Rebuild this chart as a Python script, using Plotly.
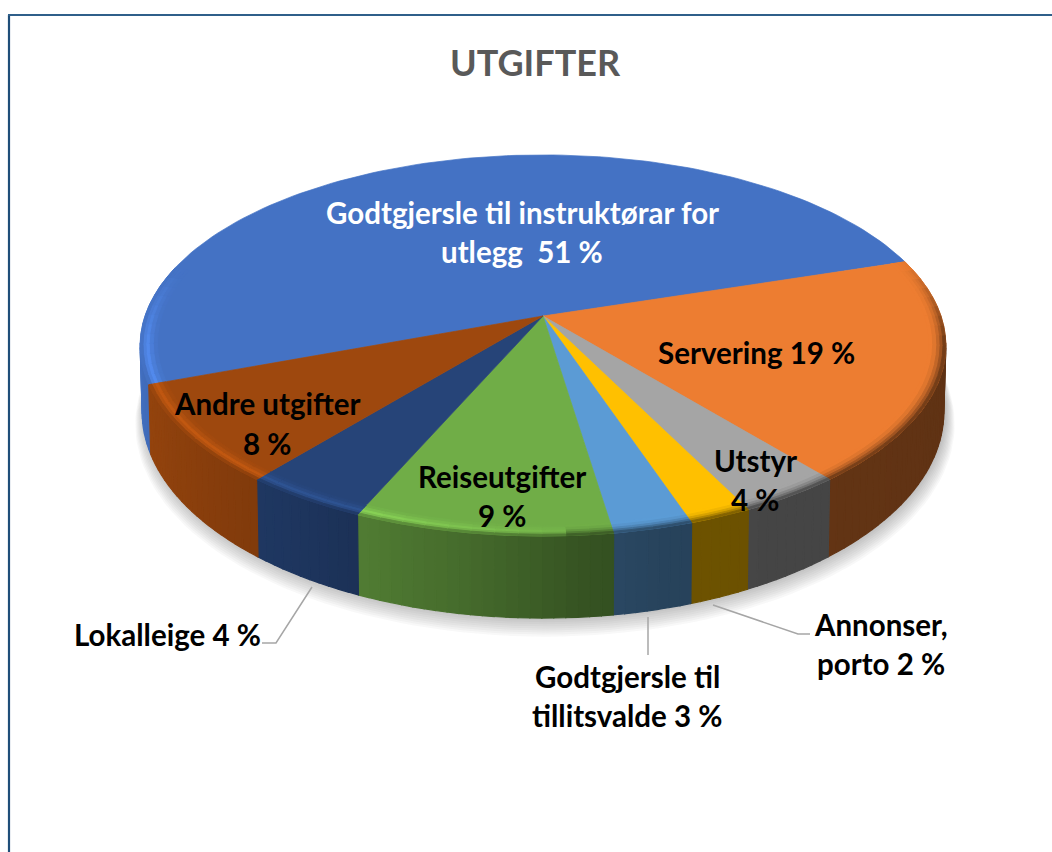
import numpy as np
import plotly.graph_objects as go

# ---- data ----
categories = ["Godtgjersle til instruktørar for utlegg", "Servering", "Utstyr", "Annonser, porto",
              "Godtgjersle til tillitsvalde", "Reiseutgifter", "Lokalleige", "Andre utgifter"]
values = [50.75, 19.0, 3.6, 2.17, 2.76, 8.95, 4.37, 8.4]
colors = ["#4472c4", "#ed7d31", "#a5a5a5", "#ffc000", "#5b9bd5", "#70ad47", "#264478", "#9e480e"]
title_text = "UTGIFTER"
label_lines = [
    ("Godtgjersle til instruktørar for", 522, 212, "white"),
    ("utlegg  51 %", 522, 251, "white"),
    ("Servering 19 %", 756, 352, "black"),
    ("Andre utgifter", 267, 403, "black"),
    ("8 %", 267, 443, "black"),
    ("Reiseutgifter", 502, 476, "black"),
    ("9 %", 502, 515, "black"),
    ("Utstyr", 755, 460, "black"),
    ("4 %", 755, 499, "black"),
    ("Lokalleige 4 %", 167, 634, "black"),
    ("Godtgjersle til", 627, 676, "black"),
    ("tillitsvalde 3 %", 627, 715, "black"),
    ("Annonser,", 881, 624, "black"),
    ("porto 2 %", 881, 663, "black"),
]
leaders = [
    ([262, 276, 312], [643, 643, 587]),
    ([648, 648], [617, 655]),
    ([713, 798, 810], [605, 634, 634]),
]

# ---- projection of the tilted disc ----
CX, CY, A, B, K = 543.0, 316.0, 398.0, 186.0, 0.1547
START = -110.45
DEPTH, SY = 64.0, 1.082


def top(theta, r=1.0):
    t = np.radians(theta)
    u, v = r * np.sin(t), -r * np.cos(t)
    d = 1 - K * v
    return CX + A * u / d, CY + B * v / d


def bottom(theta):
    x, y = top(theta)
    return CX + (x - CX) * 0.995, CY + DEPTH + (y - CY) * SY


def rgb(h):
    return np.array([int(h[i:i + 2], 16) for i in (1, 3, 5)], float)


def css(c):
    c = np.clip(c, 0, 255)
    return f"rgb({c[0]:.0f},{c[1]:.0f},{c[2]:.0f})"


def side_factor(theta):
    return np.interp(theta, [98, 150, 165, 175, 190, 212, 235, 262], [.40, .42, .43, .48, .62, .78, .88, .98])


def glow(theta):
    return np.interp(theta, [150, 178, 205, 235, 262, 285], [0, .05, .22, .22, .2, 0])


def edge(theta):
    return np.interp(theta, [72, 98, 262, 285], [0, 1, 1, 0])


fig = go.Figure()


def poly(xs, ys, color, width=0.7):
    fig.add_trace(go.Scatter(x=list(xs) + [xs[0]], y=list(ys) + [ys[0]], mode="lines", fill="toself",
                             fillcolor=color, line=dict(color=color, width=width), hoverinfo="skip",
                             showlegend=False))


# slice limits from the values
fractions = np.array(values) / sum(values) * 360
bounds = START + np.concatenate([[0], np.cumsum(fractions)])

# shadow
for g in np.linspace(1.0, 0.0, 10):
    bx, by = bottom(np.linspace(0, 360, 181))
    sx = CX + (bx - CX) * (1.0 + .022 * g) + 2
    sy = 400 + (by - 400) * (1.0 + .03 * g) + 12 * g
    poly(sx, sy, "rgba(60,60,70,0.035)", 0)

# walls
for i, col in enumerate(colors):
    lo, hi = bounds[i], bounds[i + 1]
    for shift in (0, 360):
        a0, a1 = max(lo + shift, 98.1), min(hi + shift, 261.9)
        if a1 <= a0:
            continue
        n = int(np.ceil((a1 - a0) / 1.5))
        edges = np.linspace(a0, a1, n + 1)
        for e0, e1 in zip(edges[:-1], edges[1:]):
            seg = np.linspace(e0, e1, 3)
            tx, ty = top(seg)
            qx, qy = bottom(seg[::-1])
            poly(np.r_[tx, qx], np.r_[ty, qy], css(rgb(col) * side_factor((e0 + e1) / 2)), 1.2)

# top face
for i, col in enumerate(colors):
    seg = np.linspace(bounds[i], bounds[i + 1], 120)
    x, y = top(seg)
    poly(np.r_[CX, x], np.r_[CY, y], col)

# bevelled rim
radii = [.958, .968, .978, .986, .993, 1.0]
weights = [.15, .5, 1.0, .8, 0.3]
for i, col in enumerate(colors):
    base = rgb(col)
    n = int(np.ceil(fractions[i] / 3))
    edges = np.linspace(bounds[i], bounds[i + 1], n + 1)
    for e0, e1 in zip(edges[:-1], edges[1:]):
        m = ((e0 + e1) / 2) % 360
        if not 72 < m < 285:
            continue
        s = np.linspace(e0, e1, 3)
        g, ed = glow(m), edge(m)
        f = side_factor(np.clip(m, 98, 262))
        for j in range(5):
            hi_c = base * (1 + g * weights[j])
            if g < .05:
                mix = (0, .1, .3, .55, .85)[j] * ed
            else:
                mix = (0, 0, 0, .15, .6)[j] * ed
            c = hi_c * (1 - mix) + base * f * mix
            x0, y0 = top(s, radii[j])
            x1, y1 = top(s[::-1], radii[j + 1])
            poly(np.r_[x0, x1], np.r_[y0, y1], css(c), 0.9)

# leader lines
for lx, ly in leaders:
    fig.add_trace(go.Scatter(x=lx, y=ly, mode="lines", line=dict(color="#a6a6a6", width=1.5),
                             hoverinfo="skip", showlegend=False))

anns = [dict(x=535, y=62, text=title_text, showarrow=False, xanchor="center", yanchor="middle",
             font=dict(family="Lato", size=36, color="#595959", weight="bold"))]
for text, x, y, c in label_lines:
    anns.append(dict(x=x, y=y, text=text, showarrow=False, xanchor="center", yanchor="middle",
                     font=dict(family="Lato", size=29.5, color=c, weight="bold")))

fig.update_layout(
    width=1052, height=852, margin=dict(l=0, r=0, t=0, b=0), paper_bgcolor="white", plot_bgcolor="white",
    xaxis=dict(range=[0, 1052], visible=False, fixedrange=True),
    yaxis=dict(range=[852, 0], visible=False, fixedrange=True),
    showlegend=False, annotations=anns,
    shapes=[dict(type="line", x0=9, x1=9, y0=15, y1=852, line=dict(color="#1f4e79", width=2.2)),
            dict(type="line", x0=8, x1=1052, y0=15, y1=15, line=dict(color="#2f5f8a", width=2.2))],
)
fig.write_html("out.html", config=dict(displayModeBar=False),
               post_script="document.body.style.margin='0';document.documentElement.style.overflow='hidden';")
